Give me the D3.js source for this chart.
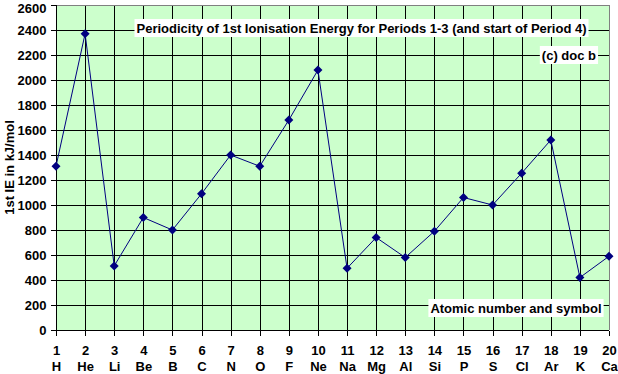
<!DOCTYPE html>
<html><head><meta charset="utf-8">
<script src="https://cdn.jsdelivr.net/npm/d3@7"></script>
<style>body{margin:0;background:#fff}svg{display:block}text{font-family:"Liberation Sans",Arial,sans-serif;font-weight:bold}</style>
</head><body>
<svg id="c" width="618" height="374"></svg>
<script>
const atomicNumbers = [1,2,3,4,5,6,7,8,9,10,11,12,13,14,15,16,17,18,19,20];
const symbols = ["H","He","Li","Be","B","C","N","O","F","Ne","Na","Mg","Al","Si","P","S","Cl","Ar","K","Ca"];
const ieValues = [1310,2370,513,900,800,1090,1400,1310,1680,2080,494,740,580,790,1060,1000,1255,1520,420,590];
const yTicks = [0,200,400,600,800,1000,1200,1400,1600,1800,2000,2200,2400,2600];
const titleText = "Periodicity of 1st Ionisation Energy for Periods 1-3 (and start of Period 4)";
const copyText = "(c) doc b";
const xAxisTitle = "Atomic number and symbol";
const yAxisTitle = "1st IE in kJ/mol";

const svg = d3.select("#c");
const L = 56, R = 609, T = 5, B = 330;
const FS = 13;
const x = d3.scaleLinear().domain([1,20]).range([L,R]);
const y = d3.scaleLinear().domain([0,2600]).range([B,T]);

svg.append("rect").attr("x",L).attr("y",T).attr("width",R-L).attr("height",B-T).attr("fill","#ccffcc");

// grid
const g = svg.append("g").attr("shape-rendering","crispEdges");
g.selectAll(".hg").data(yTicks.slice(1,-1)).enter().append("line")
 .attr("x1",L).attr("x2",R).attr("y1",d=>Math.round(y(d))+0.5).attr("y2",d=>Math.round(y(d))+0.5)
 .attr("stroke","#000");
g.selectAll(".vg").data(atomicNumbers.slice(1,-1)).enter().append("line")
 .attr("y1",T).attr("y2",B).attr("x1",d=>Math.round(x(d))+0.5).attr("x2",d=>Math.round(x(d))+0.5)
 .attr("stroke","#000");
// border top/right gray
g.append("line").attr("x1",L).attr("x2",R+0.5).attr("y1",T+0.5).attr("y2",T+0.5).attr("stroke","#808080");
g.append("line").attr("x1",R+0.5).attr("x2",R+0.5).attr("y1",T).attr("y2",B).attr("stroke","#808080");

// axes
const ya = d3.axisLeft(y).tickValues(yTicks).tickSize(6).tickPadding(4).tickFormat(d3.format("d"));
const yg = svg.append("g").attr("transform",`translate(${L+0.5},0)`).attr("shape-rendering","crispEdges").call(ya);
yg.selectAll("text").attr("font-size",FS).attr("fill","#000").style("font-family","Liberation Sans, Arial").style("font-weight","bold");
yg.selectAll("text").filter(d=>d===2600).attr("dy","0.45em").attr("y",2);
yg.selectAll("line,path").attr("stroke","#000");
yg.select(".domain").attr("d",`M0,${T}V${B+0.5}`);

const xa = d3.axisBottom(x).tickValues(atomicNumbers).tickSize(5).tickFormat("");
const xg = svg.append("g").attr("transform",`translate(0,${B+0.5})`).attr("shape-rendering","crispEdges").call(xa);
xg.selectAll("line,path").attr("stroke","#000");
xg.select(".domain").attr("d",`M${L},0H${R}`);
xg.selectAll(".tick").each(function(d,i){
  const t = d3.select(this);
  t.append("text").attr("y",24.5).attr("text-anchor","middle").attr("font-size",FS).attr("fill","#000").text(atomicNumbers[i]);
  t.append("text").attr("y",40).attr("text-anchor","middle").attr("font-size",FS).attr("fill","#000").text(symbols[i]);
});

// y title
svg.append("text").attr("transform",`translate(14,${(T+B)/2}) rotate(-90)`).attr("text-anchor","middle")
 .attr("font-size",FS).attr("fill","#000").text(yAxisTitle);

// labelled boxes
function box(txt, cx, cy, anchor){
  const t = svg.append("text").attr("x",cx).attr("y",cy).attr("dy","0.35em").attr("text-anchor",anchor)
   .attr("font-size",FS).attr("fill","#000").text(txt);
  const bb = t.node().getBBox();
  svg.insert("rect", ()=>t.node()).attr("x",bb.x-2).attr("y",cy-9).attr("width",bb.width+4).attr("height",18).attr("fill","#fff");
}
box(titleText, 361.5, 28, "middle");
box(copyText, 596, 55, "end");
box(xAxisTitle, 516, 308, "middle");

// line + markers
const line = d3.line().x((d,i)=>x(atomicNumbers[i])).y(d=>y(d));
svg.append("path").datum(ieValues).attr("d",line).attr("fill","none").attr("stroke","#000080").attr("stroke-width",1);
svg.selectAll(".pt").data(ieValues).enter().append("path")
 .attr("transform",(d,i)=>`translate(${x(atomicNumbers[i])},${y(d)})`)
 .attr("d","M0,-4.5L4.5,0L0,4.5L-4.5,0Z").attr("fill","#000080");
</script>
</body></html>
